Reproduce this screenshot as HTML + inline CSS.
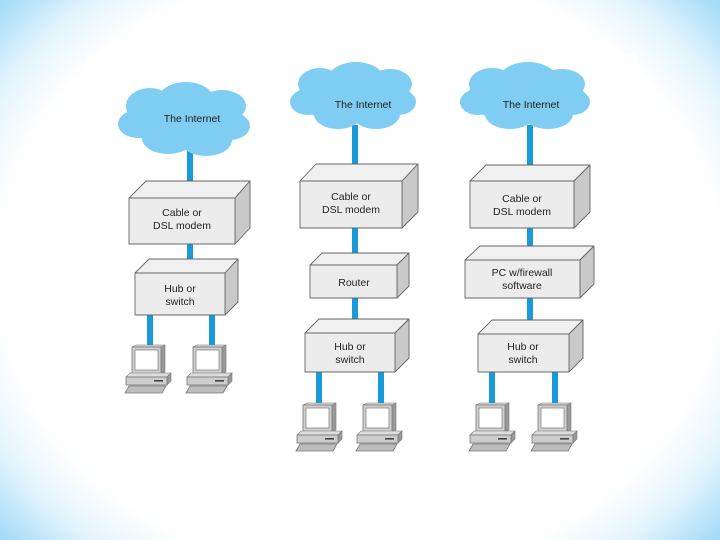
<!DOCTYPE html>
<html><head><meta charset="utf-8"><style>
html,body{margin:0;padding:0}
body{width:720px;height:540px;overflow:hidden;background:radial-gradient(ellipse 66% 74% at 50% 50%,#fff 76%,#e3f4fd 88%,#a6dcf8 100%);font-family:"Liberation Sans",sans-serif}
svg{position:absolute;left:0;top:0}
text{font-family:"Liberation Sans",sans-serif;font-size:10.5px;fill:#222;text-anchor:middle}
</style></head><body>
<svg width="720" height="540" viewBox="0 0 720 540">
<defs>
<g id="pc">
<polygon points="29,2 33,0 33,27 29,29" fill="#9a9a9a" stroke="#777" stroke-width="0.6"/>
<polygon points="0,2 4,0 33,0 29,2" fill="#ddd" stroke="#777" stroke-width="0.6"/>
<rect x="0" y="2" width="29" height="27" fill="#cfcfcf" stroke="#777" stroke-width="0.8"/>
<rect x="3" y="5" width="23" height="20" fill="#fff" stroke="#888" stroke-width="0.8"/>
<polygon points="-6,32 -2,28 39,28 35,32" fill="#ddd" stroke="#777" stroke-width="0.6"/>
<polygon points="35,32 39,28 39,36 35,40" fill="#999" stroke="#777" stroke-width="0.6"/>
<rect x="-6" y="32" width="41" height="8" fill="#cdcdcd" stroke="#777" stroke-width="0.8"/>
<rect x="22" y="35" width="9" height="1.6" fill="#444"/>
<polygon points="-7,48 -3,41 34,41 30,48" fill="#bdbdbd" stroke="#777" stroke-width="0.8"/>
</g>
</defs>
<rect x="87" y="54" width="550" height="420" fill="#fff"/>
<g fill="#1a9ad8">
<rect x="187" y="150" width="6" height="32"/><rect x="187" y="242" width="6" height="20"/>
<rect x="147" y="314" width="6" height="34"/><rect x="209" y="314" width="6" height="34"/>
<rect x="352" y="125" width="6" height="42"/><rect x="352" y="226" width="6" height="30"/><rect x="352" y="296" width="6" height="24"/>
<rect x="316" y="371" width="6" height="34"/><rect x="378" y="371" width="6" height="34"/>
<rect x="527" y="125" width="6" height="42"/><rect x="527" y="226" width="6" height="22"/><rect x="527" y="296" width="6" height="24"/>
<rect x="489" y="371" width="6" height="34"/><rect x="552" y="371" width="6" height="34"/>
</g>
<g fill="#7fcdf2">
<g transform="translate(118,82)"><ellipse cx="66" cy="38" rx="60" ry="26"/><ellipse cx="32" cy="24" rx="24" ry="18"/><ellipse cx="68" cy="18" rx="28" ry="18"/><ellipse cx="104" cy="24" rx="24" ry="16"/><ellipse cx="20" cy="42" rx="20" ry="14"/><ellipse cx="112" cy="44" rx="20" ry="14"/><ellipse cx="50" cy="56" rx="26" ry="16"/><ellipse cx="88" cy="58" rx="26" ry="16"/></g>
<g transform="translate(290,62)"><ellipse cx="64" cy="36" rx="58" ry="24"/><ellipse cx="30" cy="22" rx="22" ry="16"/><ellipse cx="66" cy="16" rx="27" ry="16"/><ellipse cx="100" cy="22" rx="22" ry="15"/><ellipse cx="18" cy="40" rx="18" ry="13"/><ellipse cx="108" cy="40" rx="18" ry="13"/><ellipse cx="48" cy="52" rx="24" ry="15"/><ellipse cx="86" cy="52" rx="24" ry="15"/></g>
<g transform="translate(460,62)"><ellipse cx="66" cy="36" rx="60" ry="24"/><ellipse cx="32" cy="22" rx="23" ry="16"/><ellipse cx="68" cy="16" rx="28" ry="16"/><ellipse cx="102" cy="22" rx="23" ry="15"/><ellipse cx="18" cy="40" rx="18" ry="13"/><ellipse cx="112" cy="40" rx="18" ry="13"/><ellipse cx="50" cy="52" rx="25" ry="15"/><ellipse cx="88" cy="52" rx="25" ry="15"/></g>
</g>
<text x="192" y="122">The Internet</text>
<text x="363" y="108">The Internet</text>
<text x="531" y="108">The Internet</text>
<g stroke="#666" stroke-width="0.9" stroke-linejoin="round">
<polygon points="129,198 146,181 250,181 235,198" fill="#f0f0f0"/><polygon points="235,198 250,181 250,228 235,244" fill="#c9c9c9"/><rect x="129" y="198" width="106" height="46" fill="#ececec"/>
<polygon points="135,273 149,259 238,259 225,273" fill="#f0f0f0"/><polygon points="225,273 238,259 238,302 225,315" fill="#c9c9c9"/><rect x="135" y="273" width="90" height="42" fill="#ececec"/>
<polygon points="300,181 316,164 418,164 402,181" fill="#f0f0f0"/><polygon points="402,181 418,164 418,212 402,228" fill="#c9c9c9"/><rect x="300" y="181" width="102" height="47" fill="#ececec"/>
<polygon points="310,265 322,253 409,253 397,265" fill="#f0f0f0"/><polygon points="397,265 409,253 409,286 397,298" fill="#c9c9c9"/><rect x="310" y="265" width="87" height="33" fill="#ececec"/>
<polygon points="305,333 319,319 409,319 395,333" fill="#f0f0f0"/><polygon points="395,333 409,319 409,358 395,372" fill="#c9c9c9"/><rect x="305" y="333" width="90" height="39" fill="#ececec"/>
<polygon points="470,181 486,165 590,165 574,181" fill="#f0f0f0"/><polygon points="574,181 590,165 590,212 574,228" fill="#c9c9c9"/><rect x="470" y="181" width="104" height="47" fill="#ececec"/>
<polygon points="465,260 480,246 594,246 580,260" fill="#f0f0f0"/><polygon points="580,260 594,246 594,284 580,298" fill="#c9c9c9"/><rect x="465" y="260" width="115" height="38" fill="#ececec"/>
<polygon points="478,334 492,320 583,320 569,334" fill="#f0f0f0"/><polygon points="569,334 583,320 583,358 569,372" fill="#c9c9c9"/><rect x="478" y="334" width="91" height="38" fill="#ececec"/>
</g>
<text x="182" y="216">Cable or</text><text x="182" y="229">DSL modem</text>
<text x="180" y="292">Hub or</text><text x="180" y="305">switch</text>
<text x="351" y="200">Cable or</text><text x="351" y="213">DSL modem</text>
<text x="354" y="286">Router</text>
<text x="350" y="350">Hub or</text><text x="350" y="363">switch</text>
<text x="522" y="202">Cable or</text><text x="522" y="215">DSL modem</text>
<text x="522" y="276">PC w/firewall</text><text x="522" y="289">software</text>
<text x="523" y="350">Hub or</text><text x="523" y="363">switch</text>
<use href="#pc" x="132" y="345"/><use href="#pc" x="193" y="345"/>
<use href="#pc" x="303" y="403"/><use href="#pc" x="363" y="403"/>
<use href="#pc" x="476" y="403"/><use href="#pc" x="538" y="403"/>
</svg>
</body></html>
